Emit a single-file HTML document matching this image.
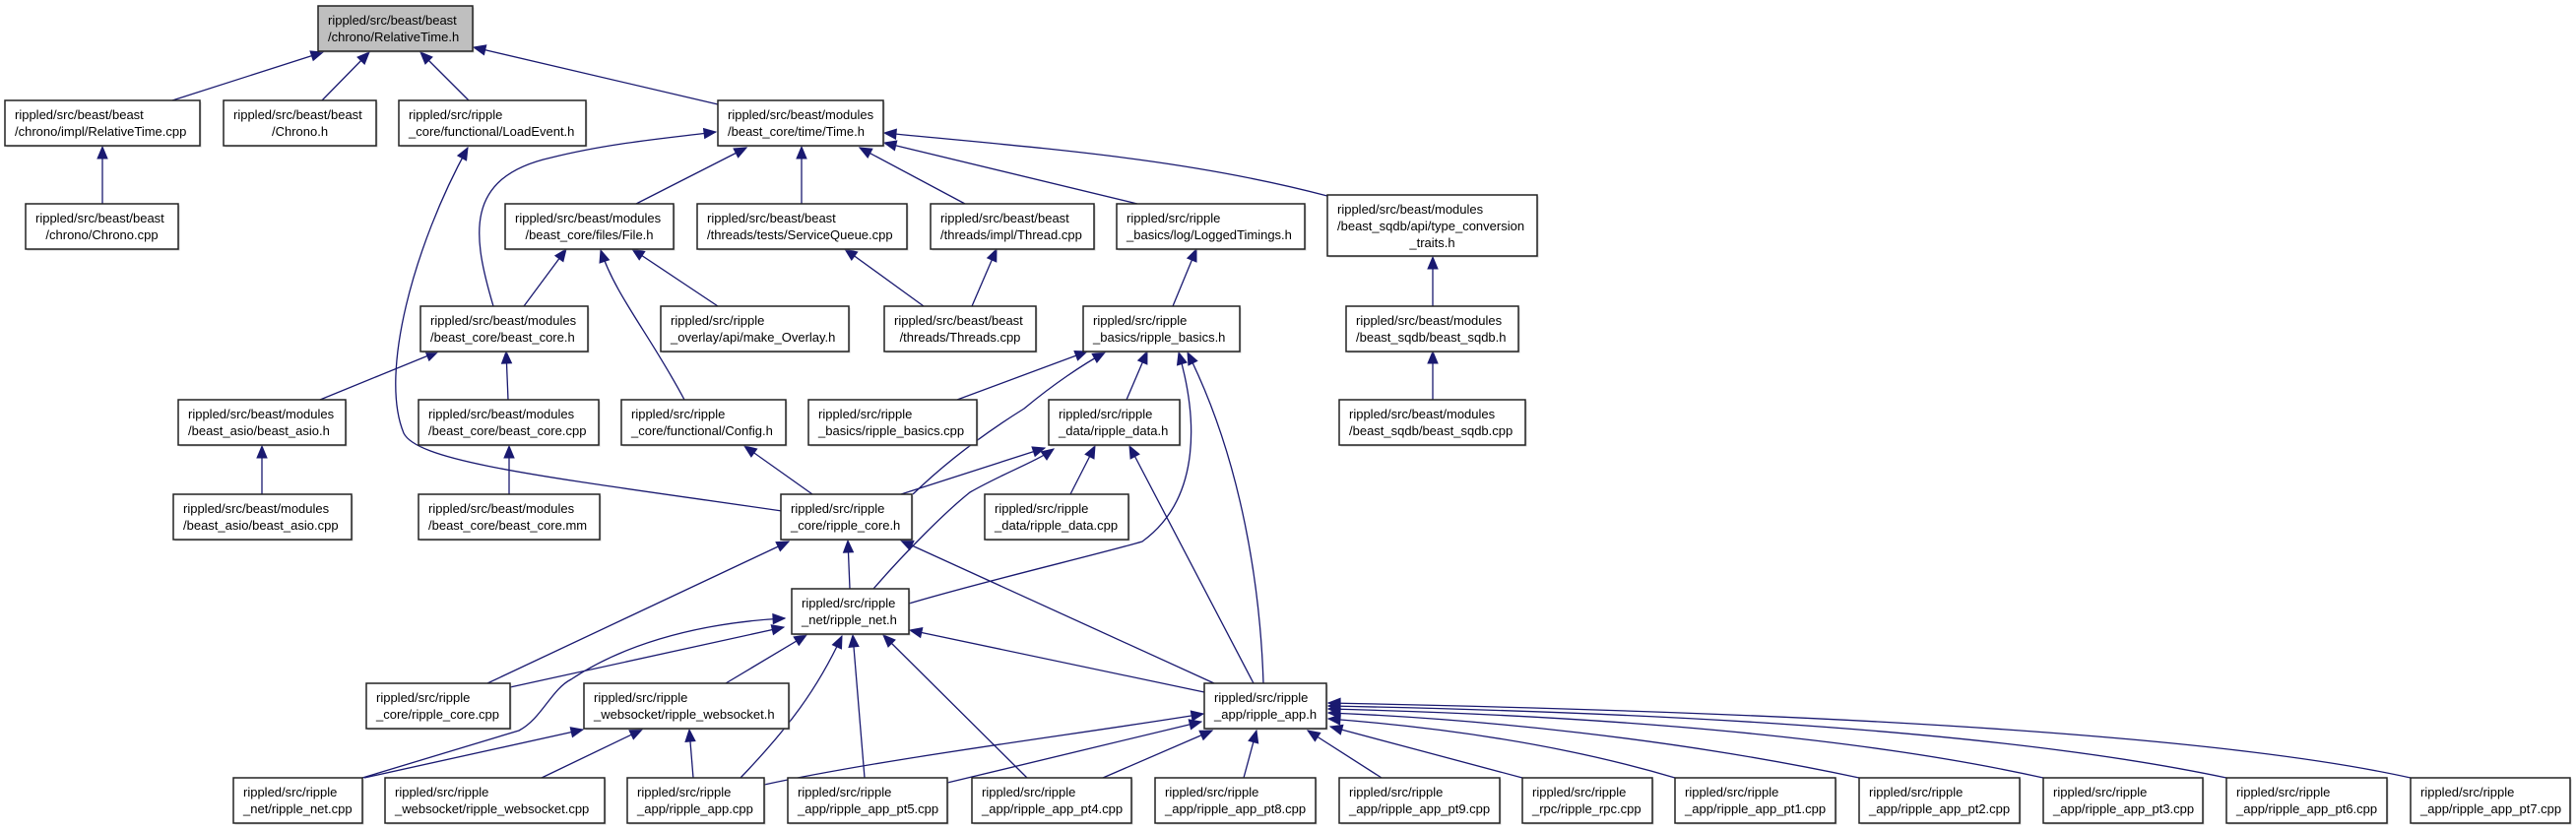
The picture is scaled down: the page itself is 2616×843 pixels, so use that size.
<!DOCTYPE html>
<html><head><meta charset="utf-8"><style>
html,body{margin:0;padding:0;background:#fff;}
svg{display:block;}
text{font-family:"Liberation Sans",sans-serif;font-size:13px;fill:#000;}
</style></head><body>
<svg id="g" width="2616" height="843" viewBox="0 0 2616 843" xmlns="http://www.w3.org/2000/svg"></svg>
<script>
var T=[6,102,207,311,406,502,598,694,790];
var N=[
[323,480,0,["rippled/src/beast/beast","/chrono/RelativeTime.h"],1],
[5,203,1,["rippled/src/beast/beast","/chrono/impl/RelativeTime.cpp"]],
[227,382,1,["rippled/src/beast/beast","^/Chrono.h"]],
[405,595,1,["rippled/src/ripple","_core/functional/LoadEvent.h"]],
[729,897,1,["rippled/src/beast/modules","/beast_core/time/Time.h"]],
[26,181,2,["rippled/src/beast/beast","^/chrono/Chrono.cpp"]],
[513,684,2,["rippled/src/beast/modules","^/beast_core/files/File.h"]],
[708,921,2,["rippled/src/beast/beast","/threads/tests/ServiceQueue.cpp"]],
[945,1111,2,["rippled/src/beast/beast","/threads/impl/Thread.cpp"]],
[1134,1325,2,["rippled/src/ripple","_basics/log/LoggedTimings.h"]],
[1348,1561,2,["rippled/src/beast/modules","/beast_sqdb/api/type_conversion","^_traits.h"]],
[427,597,3,["rippled/src/beast/modules","/beast_core/beast_core.h"]],
[671,862,3,["rippled/src/ripple","_overlay/api/make_Overlay.h"]],
[898,1052,3,["rippled/src/beast/beast","^/threads/Threads.cpp"]],
[1100,1259,3,["rippled/src/ripple","_basics/ripple_basics.h"]],
[1367,1542,3,["rippled/src/beast/modules","/beast_sqdb/beast_sqdb.h"]],
[181,351,4,["rippled/src/beast/modules","/beast_asio/beast_asio.h"]],
[425,608,4,["rippled/src/beast/modules","/beast_core/beast_core.cpp"]],
[631,798,4,["rippled/src/ripple","_core/functional/Config.h"]],
[821,992,4,["rippled/src/ripple","_basics/ripple_basics.cpp"]],
[1065,1198,4,["rippled/src/ripple","_data/ripple_data.h"]],
[1360,1549,4,["rippled/src/beast/modules","/beast_sqdb/beast_sqdb.cpp"]],
[176,357,5,["rippled/src/beast/modules","/beast_asio/beast_asio.cpp"]],
[425,609,5,["rippled/src/beast/modules","/beast_core/beast_core.mm"]],
[793,926,5,["rippled/src/ripple","_core/ripple_core.h"]],
[1000,1146,5,["rippled/src/ripple","_data/ripple_data.cpp"]],
[804,923,6,["rippled/src/ripple","_net/ripple_net.h"]],
[372,518,7,["rippled/src/ripple","_core/ripple_core.cpp"]],
[593,801,7,["rippled/src/ripple","_websocket/ripple_websocket.h"]],
[1223,1347,7,["rippled/src/ripple","_app/ripple_app.h"]],
[237,368,8,["rippled/src/ripple","_net/ripple_net.cpp"]],
[391,614,8,["rippled/src/ripple","_websocket/ripple_websocket.cpp"]],
[637,776,8,["rippled/src/ripple","_app/ripple_app.cpp"]],
[800,962,8,["rippled/src/ripple","_app/ripple_app_pt5.cpp"]],
[987,1149,8,["rippled/src/ripple","_app/ripple_app_pt4.cpp"]],
[1173,1336,8,["rippled/src/ripple","_app/ripple_app_pt8.cpp"]],
[1360,1523,8,["rippled/src/ripple","_app/ripple_app_pt9.cpp"]],
[1546,1678,8,["rippled/src/ripple","_rpc/ripple_rpc.cpp"]],
[1701,1864,8,["rippled/src/ripple","_app/ripple_app_pt1.cpp"]],
[1888,2051,8,["rippled/src/ripple","_app/ripple_app_pt2.cpp"]],
[2075,2237,8,["rippled/src/ripple","_app/ripple_app_pt3.cpp"]],
[2261,2424,8,["rippled/src/ripple","_app/ripple_app_pt6.cpp"]],
[2448,2610,8,["rippled/src/ripple","_app/ripple_app_pt7.cpp"]]
];
var E=[
"M175,102 L328,53","M327,102 L375,53","M476,102 L427,53","M729,106 L481,48",
"M104,207 L104,149",
"M794,519 C560,485 425,470 410,440 C385,380 420,250 475,150",
"M501,311 C480,240 470,180 560,160 C620,145 680,140 727,134",
"M646,207 L758,150","M814,207 L814,149","M980,207 L873,150","M1155,207 L898,145",
"M1348,199 C1200,160 1050,150 898,135",
"M532,311 L575,253","M729,311 L642,253","M695,406 C660,340 625,300 610,254",
"M938,311 L858,253","M987,311 L1012,253","M1191,311 L1215,253",
"M1455,311 L1455,261","M1455,406 L1455,357",
"M325,406 L445,357","M516,406 L514,357","M266,502 L266,453","M517,502 L517,453",
"M825,502 L756,453","M972,406 L1104,357","M1144,406 L1165,357",
"M927,502 C960,470 1000,440 1040,415 C1070,390 1100,370 1122,358",
"M923,613 C1000,590 1120,562 1160,550 C1222,505 1215,420 1197,358",
"M1283,694 C1280,600 1262,470 1206,358",
"M915,502 L1061,455",
"M887,598 C920,560 960,520 985,500 C1020,480 1050,470 1070,456",
"M1087,502 L1112,453","M1273,694 L1147,453",
"M863,598 L861,549","M495,694 L801,550","M1233,694 L915,549",
"M518,698 L796,637",
"M368,790 L527,742 C550,730 560,700 580,690 C640,650 720,632 797,628",
"M737,694 L819,645","M752,790 C800,740 830,700 855,646","M878,790 L866,645","M1043,790 L897,645",
"M1223,703 L924,640",
"M370,790 L592,741","M550,790 L652,741","M704,790 L700,741",
"M776,797 C900,770 1100,745 1222,725",
"M962,795 L1220,733","M1120,790 L1231,742","M1263,790 L1276,742","M1403,790 L1328,742",
"M1546,790 L1351,738",
"M1701,790 C1600,760 1480,740 1349,730",
"M1888,790 C1700,750 1500,730 1349,724",
"M2075,790 C1850,740 1550,725 1349,720",
"M2261,790 C2000,735 1600,722 1349,717",
"M2448,790 C2200,735 1650,720 1349,714"
];
var s='';
var C='#191970';
E.forEach(function(d){
  var nums=d.match(/-?\d+(\.\d+)?/g).map(Number);
  var n=nums.length;
  var ex=nums[n-2],ey=nums[n-1],px=nums[n-4],py=nums[n-3];
  var dx=ex-px,dy=ey-py,L=Math.sqrt(dx*dx+dy*dy);dx/=L;dy/=L;
  var bx=ex-dx*12,by=ey-dy*12,nx=-dy*5,ny=dx*5;
  s+='<path d="'+d+'" fill="none" stroke="'+C+'" stroke-width="1.3"/>';
  s+='<polygon points="'+ex+','+ey+' '+(bx+nx).toFixed(1)+','+(by+ny).toFixed(1)+' '+(bx-nx).toFixed(1)+','+(by-ny).toFixed(1)+'" fill="'+C+'" stroke="'+C+'"/>';
});
N.forEach(function(n){
  var x1=n[0],x2=n[1],y=T[n[2]],lines=n[3];
  var h=46;if(lines.length==3){y=198;h=62;}
  s+='<rect x="'+(x1+1.5)+'" y="'+(y+1.5)+'" width="'+(x2-x1)+'" height="'+h+'" fill="#999" opacity="0.5"/>';
  s+='<rect x="'+x1+'" y="'+y+'" width="'+(x2-x1)+'" height="'+h+'" fill="'+(n[4]?'#bfbfbf':'#fff')+'" stroke="#222" stroke-width="1.5"/>';
  lines.forEach(function(t,i){
    var by=y+19+i*17;
    if(t[0]=='^'){t=t.slice(1);s+='<text x="'+((x1+x2)/2)+'" y="'+by+'" text-anchor="middle">'+t+'</text>';}
    else s+='<text x="'+(x1+10)+'" y="'+by+'">'+t+'</text>';
  });
});
document.getElementById('g').innerHTML=s;
</script>
</body></html>
